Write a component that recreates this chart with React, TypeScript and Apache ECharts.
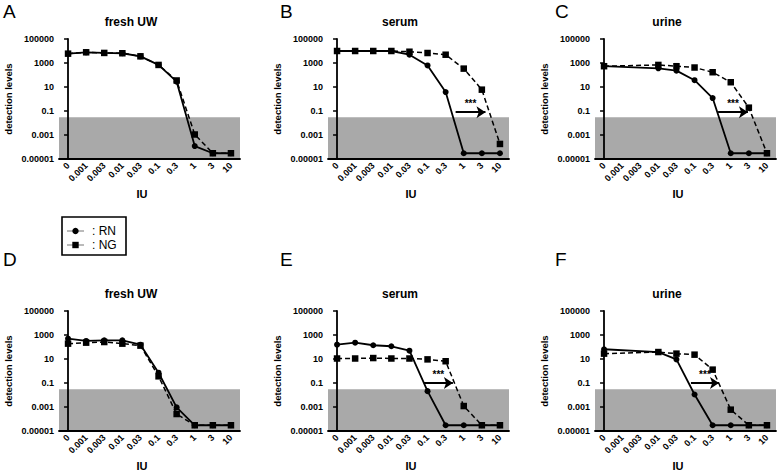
import React, { useEffect, useRef } from "react";
import * as echarts from "echarts";

// ---------- data ----------
const categories = ["0", "0.001", "0.003", "0.01", "0.03", "0.1", "0.3", "1", "3", "10"];
const yTickLabels = ["0.00001", "0.001", "0.1", "10", "1000", "100000"];
const panelLetters = ["A", "B", "C", "D", "E", "F"];
const panelTitles = ["fresh UW", "serum", "urine", "fresh UW", "serum", "urine"];
const seriesNames = ["RN", "NG"];
const legendLabels = [": RN", ": NG"];
const xAxisName = "IU";
const yAxisName = "detection levels";
const significance = "***";
const threshold = 0.03;

const rnA = [6000, 7800, 6900, 6500, 3600, 690, 28, 0.00012, 0.00003, 0.00003];
const ngA = [6000, 7800, 6900, 6500, 3600, 690, 35, 0.0011, 0.00003, 0.00003];
const rnB = [10000, 10000, 10000, 10000, 4900, 630, 3.8, 0.00003, 0.00003, 0.00003];
const ngB = [10000, 10000, 10000, 10000, 8700, 6800, 4900, 340, 6.0, 0.00018];
const rnC = [540, null, null, 360, 230, 37, 1.2, 0.00003, 0.00003, 0.00003];
const ngC = [540, null, null, 690, 540, 420, 170, 25, 0.19, 0.00003];
const rnD = [490, 320, 360, 360, 155, 0.72, 0.00093, 0.00003, 0.00003, 0.00003];
const ngD = [190, 230, 260, 190, 130, 0.36, 0.00026, 0.00003, 0.00003, 0.00003];
const rnE = [155, 230, 140, 115, 49, 0.021, 0.00003, 0.00003, 0.00003, 0.00003];
const ngE = [11, 11, 12, 11, 11, 9.3, 6.5, 0.0012, 0.00003, 0.00003];
const rnF = [65, null, null, 38, 9.3, 0.011, 0.00003, 0.00003, 0.00003, 0.00003];
const ngF = [28, null, null, 38, 28, 23, 1.3, 0.0006, 0.00003, 0.00003];

// arrows: [from category position, to category position, level]
const arrowB = [6.55, 8.2, 0.08];
const arrowC = [6.3, 7.95, 0.08];
const arrowE = [4.8, 6.4, 0.1];
const arrowF = [4.8, 6.35, 0.1];

const rnData = [rnA, rnB, rnC, rnD, rnE, rnF];
const ngData = [ngA, ngB, ngC, ngD, ngE, ngF];
const arrows = [null, arrowB, arrowC, null, arrowE, arrowF];

// ---------- layout ----------
const layout = [
  { left: 59, top: 39, letterX: 3, letterY: 11 },
  { left: 328, top: 39, letterX: 280, letterY: 11 },
  { left: 595, top: 39, letterX: 555, letterY: 11 },
  { left: 59, top: 311, letterX: 3, letterY: 259 },
  { left: 328, top: 311, letterX: 280, letterY: 259 },
  { left: 595, top: 311, letterX: 555, letterY: 259 },
];
const GRID_W = 181;
const GRID_H = 120;
const FONT = "'Liberation Sans', Arial, Helvetica, sans-serif";

const toLog = (v: number | null) => (v == null ? null : Math.log10(v) + 5);

function buildOption() {
  const grid: any[] = [];
  const xAxis: any[] = [];
  const yAxis: any[] = [];
  const series: any[] = [];
  const graphic: any[] = [];

  layout.forEach((p, i) => {
    grid.push({ left: p.left, top: p.top, width: GRID_W, height: GRID_H });
    xAxis.push({
      type: "category",
      gridIndex: i,
      data: categories,
      boundaryGap: true,
      z: 10,
      axisLine: { lineStyle: { color: "#000", width: 1.8 } },
      axisTick: { alignWithLabel: true, interval: 0, length: 4, lineStyle: { color: "#000", width: 1.5 } },
      axisLabel: {
        interval: 0,
        rotate: 45,
        margin: 5,
        color: "#000",
        fontSize: 9,
        fontWeight: "bold",
        fontFamily: FONT,
      },
      splitLine: { show: false },
    });
    yAxis.push({
      type: "value",
      gridIndex: i,
      min: 0,
      max: 10,
      interval: 2,
      z: 10,
      name: yAxisName,
      nameLocation: "middle",
      nameGap: 46,
      nameRotate: 90,
      nameTextStyle: { color: "#000", fontSize: 9.5, fontWeight: "bold", fontFamily: FONT },
      axisLine: { show: true, lineStyle: { color: "#000", width: 1.8 } },
      axisTick: { show: true, length: 4, lineStyle: { color: "#000", width: 1.5 } },
      axisLabel: {
        margin: 5,
        color: "#000",
        fontSize: 9,
        fontWeight: "bold",
        fontFamily: FONT,
        formatter: (v: number) => yTickLabels[Math.round(v / 2)] ?? "",
      },
      splitLine: { show: false },
    });
  });
  // hidden value axes for arrows
  layout.forEach((p, i) => {
    xAxis.push({ type: "value", gridIndex: i, min: -0.5, max: 9.5, show: false });
  });

  layout.forEach((p, i) => {
    series.push({
      name: seriesNames[0],
      type: "line",
      xAxisIndex: i,
      yAxisIndex: i,
      data: rnData[i].map(toLog),
      connectNulls: true,
      symbol: "circle",
      symbolSize: 6,
      z: 4,
      lineStyle: { color: "#000", width: 1.8, type: "solid" },
      itemStyle: { color: "#000" },
      markArea: {
        silent: true,
        itemStyle: { color: "#a9a9a9" },
        data: [[{ yAxis: 0 }, { yAxis: toLog(threshold) }]],
      },
    });
    series.push({
      name: seriesNames[1],
      type: "line",
      xAxisIndex: i,
      yAxisIndex: i,
      data: ngData[i].map(toLog),
      connectNulls: true,
      symbol: "rect",
      symbolSize: 6.5,
      z: 3,
      lineStyle: { color: "#000", width: 1.5, type: [5, 3] },
      itemStyle: { color: "#000" },
    });
    const a = arrows[i];
    if (a) {
      series.push({
        type: "line",
        xAxisIndex: 6 + i,
        yAxisIndex: i,
        data: [],
        symbol: "none",
        markLine: {
          silent: true,
          symbol: ["none", "arrow"],
          symbolSize: 9,
          lineStyle: { color: "#000", width: 2, type: "solid" },
          label: {
            show: true,
            position: "middle",
            formatter: significance,
            color: "#000",
            fontSize: 10,
            fontWeight: "bold",
            fontFamily: FONT,
            distance: 4,
          },
          data: [[{ coord: [a[0], toLog(a[2])] }, { coord: [a[1], toLog(a[2])] }]],
        },
      });
    }

    graphic.push({
      type: "text",
      x: p.letterX,
      y: p.letterY,
      style: { text: panelLetters[i], font: `19px ${FONT}`, fill: "#000", verticalAlign: "middle" },
    });
    graphic.push({
      type: "text",
      x: p.left + 72,
      y: p.top - 17,
      style: {
        text: panelTitles[i],
        font: `bold 12px ${FONT}`,
        fill: "#000",
        align: "center",
        verticalAlign: "middle",
      },
    });
    graphic.push({
      type: "text",
      x: p.left + 83,
      y: p.top + 155,
      style: {
        text: xAxisName,
        font: `bold 11px ${FONT}`,
        fill: "#000",
        align: "center",
        verticalAlign: "middle",
      },
    });
  });

  // legend box
  graphic.push({
    type: "rect",
    shape: { x: 62, y: 217, width: 64, height: 38 },
    style: { fill: "none", stroke: "#000", lineWidth: 1.6 },
  });
  const rowY = [231, 245];
  rowY.forEach((y, k) => {
    graphic.push({
      type: "line",
      shape: { x1: 67, y1: y, x2: 84, y2: y },
      style: { stroke: "#777", lineWidth: 1 },
    });
    if (k === 0) {
      graphic.push({ type: "circle", shape: { cx: 75.5, cy: y, r: 3.2 }, style: { fill: "#000" } });
    } else {
      graphic.push({ type: "rect", shape: { x: 72.3, y: y - 3.2, width: 6.4, height: 6.4 }, style: { fill: "#000" } });
    }
    graphic.push({
      type: "text",
      x: 92,
      y,
      style: { text: legendLabels[k], font: `12px ${FONT}`, fill: "#000", verticalAlign: "middle" },
    });
  });

  return {
    animation: false,
    backgroundColor: "#fff",
    grid,
    xAxis,
    yAxis,
    series,
    graphic,
  };
}

export default function App() {
  const ref = useRef<HTMLDivElement>(null);
  useEffect(() => {
    if (!ref.current) return;
    const chart = echarts.init(ref.current, undefined, { renderer: "svg" });
    chart.setOption(buildOption() as any);
    return () => chart.dispose();
  }, []);
  return (
    <div
      ref={ref}
      style={{ position: "fixed", left: 0, top: 0, width: 778, height: 472, background: "#fff" }}
    />
  );
}
